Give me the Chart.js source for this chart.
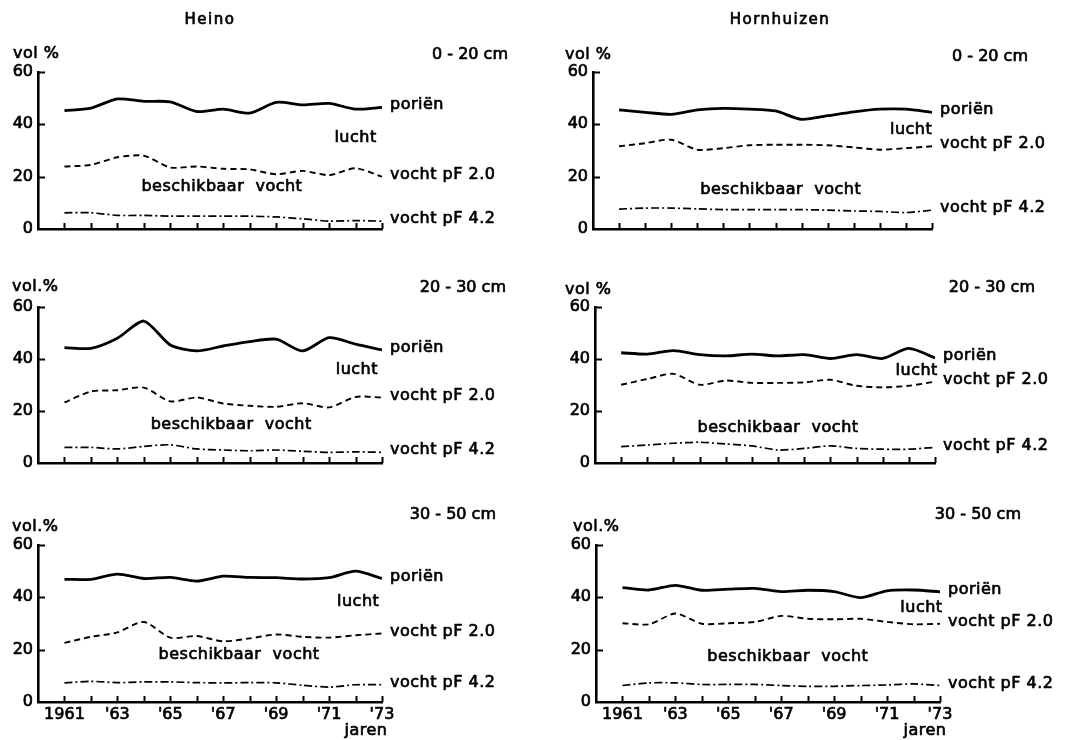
<!DOCTYPE html>
<html>
<head>
<meta charset="utf-8">
<script src="https://cdn.jsdelivr.net/npm/chart.js@4.4.1/dist/chart.umd.min.js"></script>
<style>
  body { margin: 0; background: #fff; width: 1068px; height: 740px; position: relative; overflow: hidden; }
  canvas { position: absolute; }
</style>
</head>
<body>
<script>
// jaren
const years = [1961, 1962, 1963, 1964, 1965, 1966, 1967, 1968, 1969, 1970, 1971, 1972, 1973];
const tickYears = [1961, 1963, 1965, 1967, 1969, 1971, 1973];
const tickLabels = ['1961', "'63", "'65", "'67", "'69", "'71", "'73"];
const yTicks = [0, 20, 40, 60];

// Heino (vol %)
const heinoPorien020 = [45.2, 46.2, 49.7, 48.8, 48.6, 44.9, 45.8, 44.3, 48.4, 47.4, 48.0, 45.8, 46.5];
const heinoPf20_020  = [23.9, 24.5, 27.4, 28.0, 23.5, 23.9, 23.0, 22.8, 20.9, 22.2, 20.6, 23.2, 20.0];
const heinoPf42_020  = [6.2, 6.2, 5.2, 5.2, 4.9, 4.9, 4.9, 4.9, 4.6, 3.9, 3.0, 3.2, 3.0];

const heinoPorien2030 = [44.4, 44.1, 48.0, 54.6, 45.4, 43.1, 45.0, 46.7, 47.6, 43.1, 48.2, 45.7, 43.5];
const heinoPf20_2030  = [23.3, 27.5, 28.0, 29.0, 23.7, 25.2, 22.9, 22.0, 21.6, 23.0, 21.4, 25.4, 25.2];
const heinoPf42_2030  = [6.0, 6.0, 5.4, 6.4, 7.0, 5.4, 5.0, 4.7, 5.0, 4.5, 4.1, 4.3, 4.1];

const heinoPorien3050 = [46.9, 46.9, 48.9, 47.2, 47.6, 46.2, 48.1, 47.6, 47.5, 47.0, 47.5, 50.0, 47.2];
const heinoPf20_3050  = [22.6, 24.9, 26.6, 30.6, 24.6, 25.2, 23.2, 24.3, 25.8, 24.9, 24.6, 25.5, 26.2];
const heinoPf42_3050  = [7.3, 7.9, 7.4, 7.7, 7.7, 7.4, 7.3, 7.4, 7.3, 6.4, 5.7, 6.6, 6.6];

// Hornhuizen (vol %)
const hornPorien020 = [45.5, 44.6, 43.8, 45.5, 46.1, 45.8, 45.1, 41.9, 43.3, 44.8, 45.8, 45.8, 44.6];
const hornPf20_020  = [31.6, 32.8, 34.1, 30.3, 30.9, 32.0, 32.2, 32.2, 32.0, 31.2, 30.3, 30.9, 31.6];
const hornPf42_020  = [7.6, 8.0, 8.0, 7.7, 7.4, 7.4, 7.4, 7.4, 7.2, 6.9, 6.7, 6.3, 7.2];

const hornPorien2030 = [42.4, 41.9, 43.2, 41.7, 41.2, 41.9, 41.2, 41.7, 40.2, 41.7, 40.2, 44.1, 40.4];
const hornPf20_2030  = [30.1, 32.3, 34.3, 30.1, 31.7, 30.8, 30.8, 31.0, 32.0, 29.7, 29.1, 29.7, 31.3];
const hornPf42_2030  = [6.3, 6.9, 7.6, 8.0, 7.3, 6.6, 5.0, 5.6, 6.6, 5.6, 5.3, 5.3, 6.0];

const hornPorien3050 = [43.7, 42.8, 44.6, 42.7, 43.1, 43.4, 42.2, 42.7, 42.2, 39.9, 42.5, 42.8, 42.1];
const hornPf20_3050  = [30.1, 29.7, 33.8, 29.9, 30.1, 30.6, 32.9, 31.8, 31.6, 31.8, 30.6, 29.7, 29.9];
const hornPf42_3050  = [6.3, 7.3, 7.3, 6.7, 6.7, 6.7, 6.3, 6.0, 6.0, 6.3, 6.5, 6.9, 6.3];

const FONT = '"DejaVu Sans", sans-serif';

// box = canvas [left, top, w, h] op de pagina, area = plotgebied [links(1960), boven(60), rechts(1973), onder(0)]
const panels = [
  { site: 'Heino', siteX: 210, unit: 'vol %', unitXY: [13, 54], depth: '0 - 20 cm', depthXY: [508, 55],
    box: [0, 0, 534, 245], area: [38, 72, 382, 229], lucht: [1972.0, 34.8], besch: [1966.95, 16],
    porien: heinoPorien020, pf20: heinoPf20_020, pf42: heinoPf42_020 },
  { unit: 'vol.%', unitXY: [12, 287], depth: '20 - 30 cm', depthXY: [506, 288],
    box: [0, 250, 534, 240], area: [38, 307, 382, 463], lucht: [1972.05, 35.8], besch: [1967.3, 14.6],
    porien: heinoPorien2030, pf20: heinoPf20_2030, pf42: heinoPf42_2030 },
  { unit: 'vol.%', unitXY: [12, 527], depth: '30 - 50 cm', depthXY: [496, 515], xLabels: true, jaren: 366,
    box: [0, 495, 534, 245], area: [38, 545, 382, 702], lucht: [1972.1, 38.2], besch: [1967.6, 18],
    porien: heinoPorien3050, pf20: heinoPf20_3050, pf42: heinoPf42_3050 },
  { site: 'Hornhuizen', siteX: 780, unit: 'vol %', unitXY: [565, 55], depth: '0 - 20 cm', depthXY: [1028, 57],
    box: [534, 0, 534, 245], area: [593, 72, 932, 229], lucht: [1972.2, 37.8], besch: [1967.2, 14.9],
    porien: hornPorien020, pf20: hornPf20_020, pf42: hornPf42_020 },
  { unit: 'vol %', unitXY: [565, 290], depth: '20 - 30 cm', depthXY: [1035, 288],
    box: [534, 250, 534, 240], area: [595, 307, 935, 463], lucht: [1972.3, 35.4], besch: [1967.0, 13.5],
    porien: hornPorien2030, pf20: hornPf20_2030, pf42: hornPf42_2030 },
  { unit: 'vol.%', unitXY: [573, 527], depth: '30 - 50 cm', depthXY: [1021, 515], xLabels: true, jaren: 925,
    box: [534, 495, 534, 245], area: [596, 545, 940, 702], lucht: [1972.3, 35.9], besch: [1967.25, 17.4],
    porien: hornPorien3050, pf20: hornPf20_3050, pf42: hornPf42_3050 },
];

// tekst iets dikker maken, zoals de gedrukte letters
function txt(ctx, s, x, y) {
  ctx.strokeText(s, x, y);
  ctx.fillText(s, x, y);
}

// tekst en naar binnen gerichte streepjes
const annotate = {
  id: 'annotate',
  afterDraw(chart, args, opts) {
    const p = opts.panel;
    const { ctx, chartArea: a } = chart;
    const x = chart.scales.x, y = chart.scales.y;
    const ox = p.box[0], oy = p.box[1];
    ctx.save();
    ctx.strokeStyle = '#000';
    ctx.lineWidth = 2;
    ctx.beginPath();
    years.forEach((yr) => {
      const px = Math.round(x.getPixelForValue(yr)) + 0.5;
      ctx.moveTo(px, a.bottom);
      ctx.lineTo(px, a.bottom - 6);
    });
    yTicks.slice(1).forEach((v) => {
      const py = Math.round(y.getPixelForValue(v)) + 0.5;
      ctx.moveTo(a.left, py);
      ctx.lineTo(a.left + 7, py);
    });
    ctx.stroke();

    ctx.fillStyle = '#000';
    ctx.lineWidth = 0.7;
    ctx.lineJoin = 'round';
    ctx.textBaseline = 'middle';
    ctx.font = '16px ' + FONT;
    ctx.letterSpacing = '0.5px';

    // labels rechts van de lijnen
    const rx = a.right + 8;
    const last = (arr) => y.getPixelForValue(arr[arr.length - 1]) - 2;
    ctx.textAlign = 'left';
    txt(ctx, 'poriën', rx, last(p.porien));
    txt(ctx, 'vocht pF 2.0', rx, last(p.pf20));
    txt(ctx, 'vocht pF 4.2', rx, last(p.pf42));

    ctx.textAlign = 'center';
    txt(ctx, 'lucht', x.getPixelForValue(p.lucht[0]), y.getPixelForValue(p.lucht[1]));
    txt(ctx, 'beschikbaar  vocht', x.getPixelForValue(p.besch[0]), y.getPixelForValue(p.besch[1]));

    ctx.textAlign = 'left';
    txt(ctx, p.unit, p.unitXY[0] - ox, p.unitXY[1] - oy);
    ctx.letterSpacing = '0px';
    ctx.textAlign = 'right';
    txt(ctx, p.depth, p.depthXY[0] - ox, p.depthXY[1] - oy);

    if (p.site) {
      ctx.textAlign = 'center';
      ctx.font = '15px ' + FONT;
      ctx.letterSpacing = '1.5px';
      txt(ctx, p.site, p.siteX - ox, 20 - oy);
    }
    if (p.jaren) {
      ctx.textAlign = 'center';
      ctx.font = '16px ' + FONT;
      ctx.letterSpacing = '0.5px';
      txt(ctx, 'jaren', p.jaren - ox, 731 - oy);
    }
    ctx.restore();
  },
};

const yW = 36;
const xH = 26;

panels.forEach((p) => {
  const [cx, cy, cw, ch] = p.box;
  const [l, t, r, b] = p.area;
  const canvas = document.createElement('canvas');
  canvas.width = cw;
  canvas.height = ch;
  canvas.style.left = cx + 'px';
  canvas.style.top = cy + 'px';
  canvas.style.width = cw + 'px';
  canvas.style.height = ch + 'px';
  document.body.appendChild(canvas);

  const pts = (arr) => years.map((yr, i) => ({ x: yr, y: arr[i] }));
  const tickFont = { family: FONT, size: 16 };

  new Chart(canvas, {
    type: 'line',
    data: {
      datasets: [
        { label: 'poriën', data: pts(p.porien), borderColor: '#000', borderWidth: 2.8 },
        { label: 'vocht pF 2.0', data: pts(p.pf20), borderColor: '#000', borderWidth: 1.9, borderDash: [6, 4] },
        { label: 'vocht pF 4.2', data: pts(p.pf42), borderColor: '#000', borderWidth: 1.7, borderDash: [8, 3, 2, 3] },
      ],
    },
    options: {
      responsive: false,
      animation: false,
      devicePixelRatio: 1,
      layout: { padding: { left: l - cx - yW, top: t - cy, right: cx + cw - r, bottom: cy + ch - b - xH } },
      elements: { point: { radius: 0 }, line: { tension: 0.25, fill: false } },
      plugins: { legend: { display: false }, tooltip: { enabled: false }, annotate: { panel: p } },
      scales: {
        x: {
          type: 'linear',
          min: 1960,
          max: 1973,
          afterBuildTicks: (s) => { s.ticks = tickYears.map((v) => ({ value: v })); },
          afterFit: (s) => { s.height = xH; },
          grid: { display: false, drawTicks: false },
          border: { color: '#000', width: 2.6 },
          ticks: {
            display: !!p.xLabels,
            autoSkip: false,
            maxRotation: 0,
            padding: 3,
            color: '#000',
            textStrokeColor: '#000',
            textStrokeWidth: 0.7,
            font: tickFont,
            callback: (v, i) => tickLabels[i],
          },
        },
        y: {
          min: 0,
          max: 60,
          afterFit: (s) => { s.width = yW; },
          grid: { display: false, drawTicks: false },
          border: { color: '#000', width: 2.6 },
          ticks: { stepSize: 20, padding: 5, color: '#000', textStrokeColor: '#000', textStrokeWidth: 0.7, font: tickFont },
        },
      },
    },
    plugins: [annotate],
  });
});
</script>
</body>
</html>
